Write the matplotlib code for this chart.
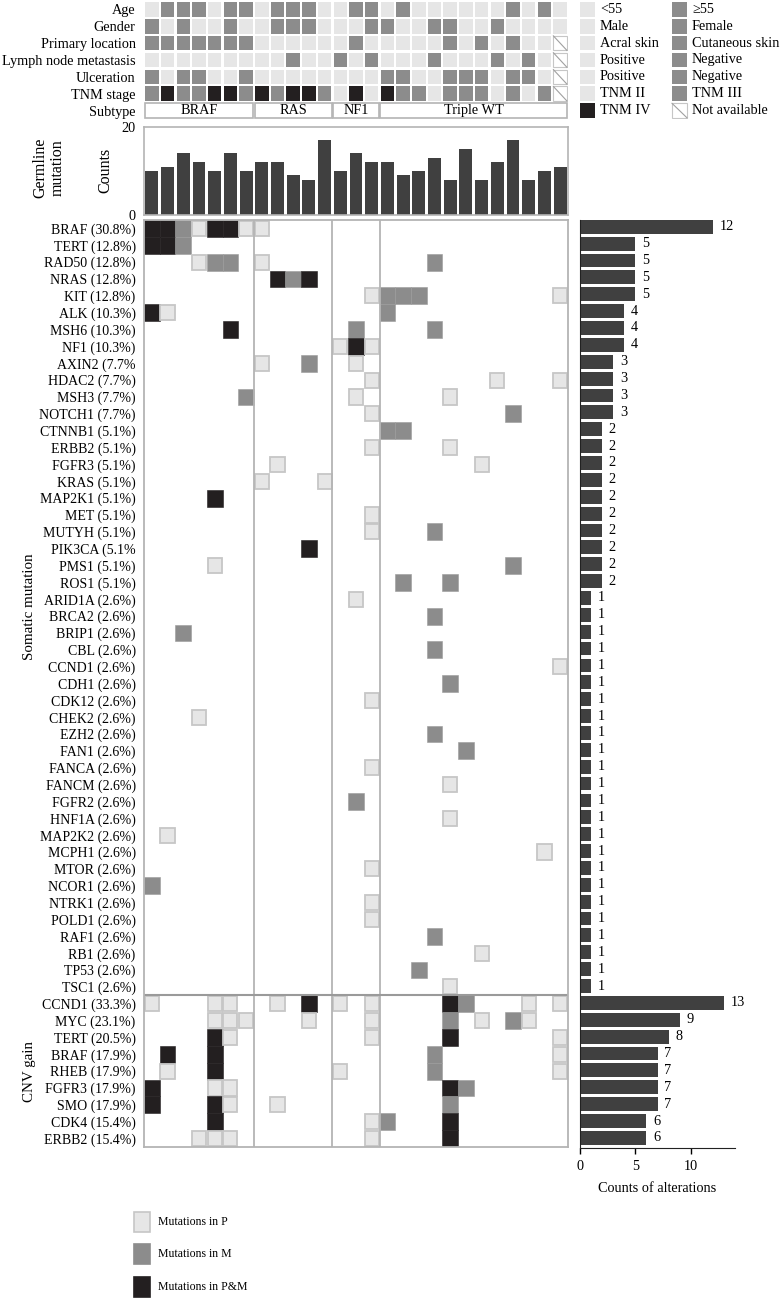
import numpy as np
import matplotlib
matplotlib.use("Agg")
import matplotlib.pyplot as plt
from matplotlib.patches import Rectangle

plt.rcParams['font.family'] = ['Liberation Serif', 'DejaVu Serif']

# ---- data ----
# clinical tracks, one char per patient: L light, G gray, K black, N not available
clin_labels = ['Age', 'Gender', 'Primary location', 'Lymph node metastasis',
               'Ulceration', 'TNM stage']
clin_rows = [
    'LGGGLGG LGGGL LGG LGLLLLLLGLGL',
    'GLGLLGL LGGGL LLG GLLGGLLGLLLL',
    'GGGGGGG LLLLL LGL LLLLGLGLGLLN',
    'LLLLLLL LLGLL GLG LLLGLLLGLGLN',
    'GLGGLLG LLLLL LLL GGLLGGGLGGLN',
    'GKGGKKG KGKKG LKL KGGLGGGLGLGN',
]
legend_left = ['<55', 'Male', 'Acral skin', 'Positive', 'Positive', 'TNM II', 'TNM IV']
legend_right = ['\u226555', 'Female', 'Cutaneous skin', 'Negative', 'Negative',
                'TNM III', 'Not available']

subtypes = ['BRAF', 'RAS', 'NF1', 'Triple WT']
subtype_sizes = [7, 5, 3, 12]

germline = [10, 11, 14, 12, 10, 14, 10, 12, 12, 9, 8, 17, 10, 14, 12, 12,
            9, 10, 13, 8, 15, 8, 12, 17, 8, 10, 11]

somatic_labels = [
    'BRAF (30.8%)', 'TERT (12.8%)', 'RAD50 (12.8%)', 'NRAS (12.8%)', 'KIT (12.8%)',
    'ALK (10.3%)', 'MSH6 (10.3%)', 'NF1 (10.3%)', 'AXIN2 (7.7%', 'HDAC2 (7.7%)',
    'MSH3 (7.7%)', 'NOTCH1 (7.7%)', 'CTNNB1 (5.1%)', 'ERBB2 (5.1%)', 'FGFR3 (5.1%)',
    'KRAS (5.1%)', 'MAP2K1 (5.1%)', 'MET (5.1%)', 'MUTYH (5.1%)', 'PIK3CA (5.1%',
    'PMS1 (5.1%)', 'ROS1 (5.1%)', 'ARID1A (2.6%)', 'BRCA2 (2.6%)', 'BRIP1 (2.6%)',
    'CBL (2.6%)', 'CCND1 (2.6%)', 'CDH1 (2.6%)', 'CDK12 (2.6%)', 'CHEK2 (2.6%)',
    'EZH2 (2.6%)', 'FAN1 (2.6%)', 'FANCA (2.6%)', 'FANCM (2.6%)', 'FGFR2 (2.6%)',
    'HNF1A (2.6%)', 'MAP2K2 (2.6%)', 'MCPH1 (2.6%)', 'MTOR (2.6%)', 'NCOR1 (2.6%)',
    'NTRK1 (2.6%)', 'POLD1 (2.6%)', 'RAF1 (2.6%)', 'RB1 (2.6%)', 'TP53 (2.6%)',
    'TSC1 (2.6%)',
]
# P = primary only, M = metastasis only, B = both
somatic_cells = [
    'BBMPBBP P.... ... ............',
    'BBM.... ..... ... ............',
    '...PMM. P.... ... ...M........',
    '....... .BMB. ... ............',
    '....... ..... ..P MMM........P',
    'BP..... ..... ... M...........',
    '.....B. ..... .M. ...M........',
    '....... ..... PBP ............',
    '....... P..M. .P. ............',
    '....... ..... ..P .......P...P',
    '......M ..... .P. ....P.......',
    '....... ..... ..P ........M...',
    '....... ..... ... MM..........',
    '....... ..... ..P ....P.......',
    '....... .P... ... ......P.....',
    '....... P...P ... ............',
    '....B.. ..... ... ............',
    '....... ..... ..P ............',
    '....... ..... ..P ...M........',
    '....... ...B. ... ............',
    '....P.. ..... ... ........M...',
    '....... ..... ... .M..M.......',
    '....... ..... .P. ............',
    '....... ..... ... ...M........',
    '..M.... ..... ... ............',
    '....... ..... ... ...M........',
    '....... ..... ... ...........P',
    '....... ..... ... ....M.......',
    '....... ..... ..P ............',
    '...P... ..... ... ............',
    '....... ..... ... ...M........',
    '....... ..... ... .....M......',
    '....... ..... ..P ............',
    '....... ..... ... ....P.......',
    '....... ..... .M. ............',
    '....... ..... ... ....P.......',
    '.P..... ..... ... ............',
    '....... ..... ... ..........P.',
    '....... ..... ..P ............',
    'M...... ..... ... ............',
    '....... ..... ..P ............',
    '....... ..... ..P ............',
    '....... ..... ... ...M........',
    '....... ..... ... ......P.....',
    '....... ..... ... ..M.........',
    '....... ..... ... ....P.......',
]
somatic_counts = [12, 5, 5, 5, 5, 4, 4, 4, 3, 3, 3, 3, 2, 2, 2, 2, 2, 2, 2, 2, 2, 2,
                  1, 1, 1, 1, 1, 1, 1, 1, 1, 1, 1, 1, 1, 1, 1, 1, 1, 1, 1, 1, 1, 1, 1, 1]

cnv_labels = ['CCND1 (33.3%)', 'MYC (23.1%)', 'TERT (20.5%)', 'BRAF (17.9%)',
              'RHEB (17.9%)', 'FGFR3 (17.9%)', 'SMO (17.9%)', 'CDK4 (15.4%)',
              'ERBB2 (15.4%)']
cnv_cells = [
    'P...PP. .P.B. P.P ....BM...P.P',
    '....PPP ...P. ..P ....M.P.MP..',
    '....BP. ..... ..P ....B......P',
    '.B..B.. ..... ... ...M.......P',
    '.P..B.. ..... P.. ...M.......P',
    'B...PP. ..... ... ....BM......',
    'B...BP. .P... ... ....M.......',
    '....B.. ..... ..P M...B.......',
    '...PPP. ..... ..P ....B.......',
]
cnv_counts = [13, 9, 8, 7, 7, 7, 7, 6, 6]

# ---- style ----
W, H = 783, 1299
LIGHT, LEDGE = '#e6e6e6', '#c6c6c6'
GRAY, BLACK = '#8c8c8c', '#231f20'
BARC, LINE = '#404040', '#b4b4b4'
FS = 10.3


def box(x0, y0, x1, y1):
    # pixel box (top-left origin) -> figure fraction
    return [x0 / W, 1 - y1 / H, (x1 - x0) / W, (y1 - y0) / H]


fig = plt.figure(figsize=(W / 100, H / 100), dpi=100)
ncol = sum(subtype_sizes)

# ---- clinical tracks ----
ax = fig.add_axes(box(144, 1, 568, 119))
ax.set_xlim(0, ncol)
ax.set_ylim(7, 0)
fill = {'L': LIGHT, 'G': GRAY, 'K': BLACK}
pad = 0.07
for i, row in enumerate(clin_rows):
    for j, c in enumerate(row.replace(' ', '')):
        if c == 'N':
            ax.add_patch(Rectangle((j + pad, i + pad), 1 - 2 * pad, 1 - 2 * pad,
                                   fc='white', ec=LEDGE, lw=0.8))
            ax.plot([j + pad, j + 1 - pad], [i + pad, i + 1 - pad], color='#a0a0a0', lw=0.8)
        else:
            ax.add_patch(Rectangle((j + pad, i + pad), 1 - 2 * pad, 1 - 2 * pad,
                                   fc=fill[c], ec='none'))
start = 0
for name, n in zip(subtypes, subtype_sizes):
    ax.add_patch(Rectangle((start + 0.04, 6.06), n - 0.08, 0.9, fc='white', ec=LINE, lw=1.2))
    ax.text(start + n / 2, 6.52, name, ha='center', va='center', fontsize=FS)
    start += n
ax.set_yticks(np.arange(7) + 0.5)
ax.set_yticklabels(clin_labels + ['Subtype'], fontsize=FS)
ax.set_xticks([])
ax.tick_params(length=0, pad=6)
for s in ax.spines.values():
    s.set_visible(False)

# clinical legend
lg = fig.add_axes(box(575, 1, 783, 119))
lg.set_xlim(575, 783)
lg.set_ylim(7, 0)
lg.axis('off')
for i in range(7):
    y = i + pad
    h = 1 - 2 * pad
    lg.add_patch(Rectangle((580, y), 15, h, fc=BLACK if i == 6 else LIGHT, ec='none'))
    lg.text(600, i + 0.5, legend_left[i], va='center', fontsize=FS)
    if i == 6:
        lg.add_patch(Rectangle((672, y), 15, h, fc='white', ec=LEDGE, lw=0.8))
        lg.plot([672, 687], [y, y + h], color='#a0a0a0', lw=0.8)
    else:
        lg.add_patch(Rectangle((672, y), 15, h, fc=GRAY, ec='none'))
    lg.text(692, i + 0.5, legend_right[i], va='center', fontsize=FS)

# ---- germline counts ----
ag = fig.add_axes(box(144, 127, 568, 215))
ag.bar(np.arange(ncol) + 0.5, germline, width=0.82, color=BARC)
ag.set_xlim(0, ncol)
ag.set_ylim(0, 20)
ag.set_xticks([])
ag.set_yticks([0, 20])
ag.tick_params(length=0, labelsize=FS, pad=6)
for s in ag.spines.values():
    s.set_color(LINE)
    s.set_linewidth(1.2)
fig.text(105 / W, 1 - 170 / H, 'Counts', rotation=90, ha='center', va='center', fontsize=11.5)
fig.text(49 / W, 1 - 168 / H, 'Germline\nmutation', rotation=90, ha='center', va='center',
         fontsize=11.5, linespacing=1.12)

# ---- mutation matrix ----
labels = somatic_labels + cnv_labels
cells = somatic_cells + cnv_cells
counts = somatic_counts + cnv_counts
nrow = len(labels)

am = fig.add_axes(box(144, 220, 568, 1147))
am.set_xlim(0, ncol)
am.set_ylim(nrow, 0)
for i, row in enumerate(cells):
    for j, c in enumerate(row.replace(' ', '')):
        if c == 'P':
            am.add_patch(Rectangle((j + 0.05, i + 0.05), 0.9, 0.9, fc=LIGHT, ec=LEDGE, lw=1.3))
        elif c == 'M':
            am.add_patch(Rectangle((j, i), 1, 1, fc=GRAY, ec='#9a9a9a', lw=0.4))
        elif c == 'B':
            am.add_patch(Rectangle((j, i), 1, 1, fc=BLACK, ec=BLACK, lw=0.4))
for x in np.cumsum(subtype_sizes)[:-1]:
    am.axvline(x, color=LINE, lw=1.3)
am.axhline(len(somatic_labels), color='#9a9a9a', lw=1.5)
am.set_yticks(np.arange(nrow) + 0.5)
am.set_yticklabels(labels, fontsize=FS - 0.3)
am.set_xticks([])
am.tick_params(length=0, pad=6)
for s in am.spines.values():
    s.set_color(LINE)
    s.set_linewidth(1.3)
fig.text(30 / W, 1 - 607 / H, 'Somatic mutation', rotation=90, ha='center', va='center',
         fontsize=10.8)
fig.text(30 / W, 1 - 1071 / H, 'CNV gain', rotation=90, ha='center', va='center',
         fontsize=10.8)

# ---- counts of alterations ----
ab = fig.add_axes(box(580, 220, 735, 1148))
yy = np.arange(nrow) + 0.5
ab.barh(yy - 0.1, counts, height=0.82, color=BARC)
for y, v in zip(yy, counts):
    ab.text(v + 0.6, y - 0.1, str(v), va='center', ha='left', fontsize=FS)
ab.set_xlim(0, 14)
ab.set_ylim(nrow, 0)
ab.set_yticks([])
ab.set_xticks([0, 5, 10])
ab.tick_params(axis='x', labelsize=FS, length=4, width=1, pad=5)
ab.set_xlabel('Counts of alterations', fontsize=FS, labelpad=6)
ab.spines['top'].set_visible(False)
ab.spines['right'].set_visible(False)
ab.spines['left'].set_color('#222222')
ab.spines['bottom'].set_color('#222222')

# ---- alteration legend ----
lb = fig.add_axes(box(100, 1200, 400, 1299))
lb.set_xlim(100, 400)
lb.set_ylim(1299, 1200)
lb.axis('off')
for y0, fc, ec, txt in [(1212, LIGHT, LEDGE, 'Mutations in P'),
                        (1244, GRAY, GRAY, 'Mutations in M'),
                        (1277, BLACK, BLACK, 'Mutations in P&M')]:
    lb.add_patch(Rectangle((134, y0), 16, 20, fc=fc, ec=ec, lw=1.2))
    lb.text(158, y0 + 10, txt, va='center', fontsize=8.5)

fig.savefig('out.png', dpi=100)
